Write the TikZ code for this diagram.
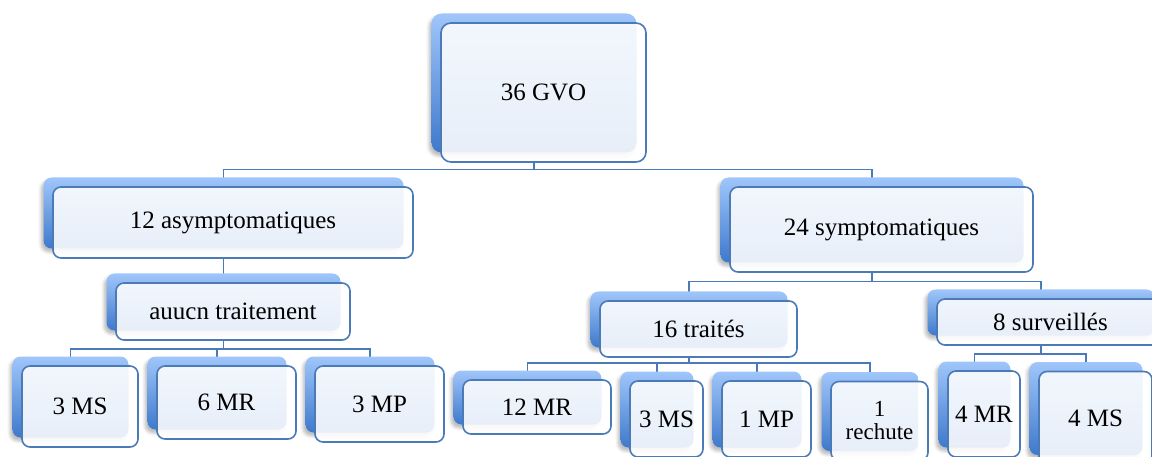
\documentclass[tikz,border=0pt]{standalone}
\usepackage{fontspec}
\setmainfont{Liberation Serif}
\usetikzlibrary{shadows,shadows.blur,backgrounds}
\definecolor{edgeblue}{RGB}{74,122,184}
\definecolor{backtop}{RGB}{160,198,250}
\definecolor{backbot}{RGB}{62,121,204}

\begin{document}
\begin{tikzpicture}[x=1pt, y=-1pt,
card/.style = {draw=edgeblue, line width=1.6pt, rounded corners=8pt, fill=white, fill opacity=0.88, text opacity=1, inner sep=0pt, align=center, font=\fontsize{25}{28}\selectfont,
  blur shadow={shadow xshift=-12pt, shadow yshift=6pt, shadow blur radius=3pt, shadow opacity=30},
  general shadow={shadow xshift=-9.5pt, shadow yshift=9.5pt, fill opacity=1, top color=backtop, bottom color=backbot}},
link/.style = {draw=edgeblue, line width=1.4pt}
]
    \useasboundingbox (0,0) rectangle (1152,457);

    \node [card, minimum width=205pt, minimum height=139pt, rounded corners=10pt] (gvo) at (543.5,92.5) {36 GVO};
    \node [card, minimum width=360pt, minimum height=71pt] (asym) at (233,222.5) {12 asymptomatiques};
    \node [card, minimum width=303pt, minimum height=85pt] (sym) at (881.5,229.5) {24 symptomatiques};
    \node [card, minimum width=234pt, minimum height=57pt] (aucun) at (233,311.5) {auucn traitement};
    \node [card, minimum width=116pt, minimum height=81pt] (msa) at (80,406.5) {3 MS};
    \node [card, minimum width=139pt, minimum height=73pt] (mra) at (226.5,402.5) {6 MR};
    \node [card, minimum width=129pt, minimum height=76pt] (mpa) at (379.5,404) {3 MP};
    \node [card, minimum width=197pt, minimum height=56pt] (trait) at (698.5,329) {16 traités};
    \node [card, minimum width=227pt, minimum height=46pt] (surv) at (1050.5,322) {8 surveillés};
    \node [card, minimum width=148pt, minimum height=54pt] (mrb) at (537,407) {12 MR};
    \node [card, minimum width=73pt, minimum height=76pt] (msb) at (666.5,419) {3 MS};
    \node [card, minimum width=89pt, minimum height=76pt] (mpb) at (766.5,419) {1 MP};
    \node [card, minimum width=97pt, minimum height=79pt, font=\fontsize{23}{23}\selectfont] (rech) at (879.5,421) {1\\rechute};
    \node [card, minimum width=72pt, minimum height=86pt] (mrc) at (984,414) {4 MR};
    \node [card, minimum width=113pt, minimum height=93pt] (msc) at (1095.5,418) {4 MS};

    \begin{scope}[on background layer]
    \draw [link] ([xshift=-9.5pt]gvo.south) -- ++(0,7) -| ([xshift=-9.5pt]asym.north);
    \draw [link] ([xshift=-9.5pt]gvo.south) -- ++(0,7) -| ([xshift=-9.5pt]sym.north);

    \draw [link] ([xshift=-9.5pt]asym.south) -- ([xshift=-9.5pt]aucun.north);
    \draw [link] ([xshift=-9.5pt]aucun.south) -- ++(0,8) -| ([xshift=-9.5pt]msa.north);
    \draw [link] ([xshift=-9.5pt]aucun.south) -- ++(0,8) -| ([xshift=-9.5pt]mra.north);
    \draw [link] ([xshift=-9.5pt]aucun.south) -- ++(0,8) -| ([xshift=-9.5pt]mpa.north);

    \draw [link] ([xshift=-9.5pt]sym.south) -- ++(0,9) -| ([xshift=-9.5pt]trait.north);
    \draw [link] ([xshift=-9.5pt]sym.south) -- ++(0,9) -| ([xshift=-9.5pt]surv.north);

    \draw [link] ([xshift=-9.5pt]trait.south) -- ++(0,5) -| ([xshift=-9.5pt]mrb.north);
    \draw [link] ([xshift=-9.5pt]trait.south) -- ++(0,5) -| ([xshift=-9.5pt]msb.north);
    \draw [link] ([xshift=-9.5pt]trait.south) -- ++(0,5) -| ([xshift=-9.5pt]mpb.north);
    \draw [link] ([xshift=-9.5pt]trait.south) -- ++(0,5) -| ([xshift=-9.5pt]rech.north);

    \draw [link] ([xshift=-9.5pt]surv.south) -- ++(0,8) -| ([xshift=-9.5pt]mrc.north);
    \draw [link] ([xshift=-9.5pt]surv.south) -- ++(0,8) -| ([xshift=-9.5pt]msc.north);
    \end{scope}

\end{tikzpicture}
\end{document}
